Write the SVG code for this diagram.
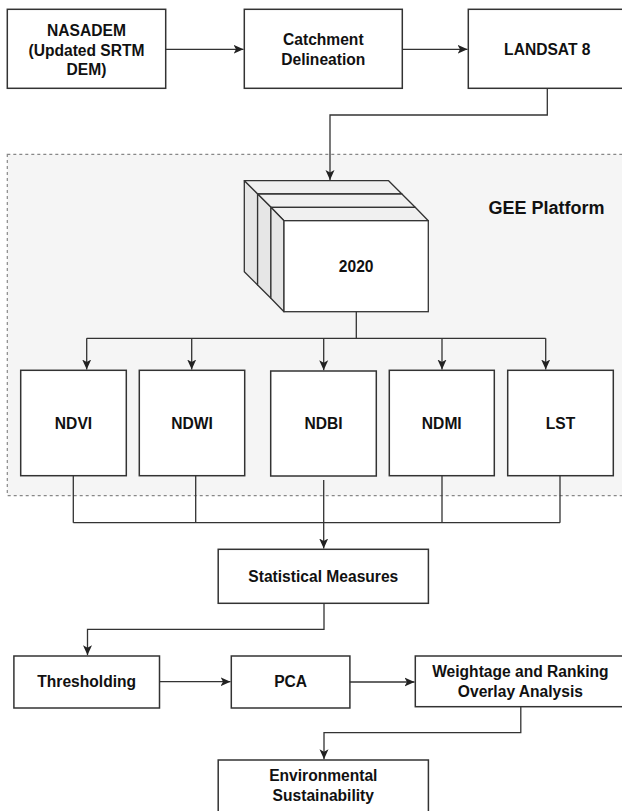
<svg xmlns="http://www.w3.org/2000/svg" width="622" height="811" viewBox="0 0 622 811">
<defs>
<marker id="arr" viewBox="0 0 10 10" markerWidth="10" markerHeight="10" refX="10" refY="5" orient="auto" markerUnits="userSpaceOnUse"><path d="M0,0.5 L10,5 L0,9.5 L2.5,5 Z" fill="#222"/></marker>
</defs>
<style>
.box{fill:#fff;stroke:#333;stroke-width:1.5}
.lbl{font-family:"Liberation Sans",Arial,sans-serif;font-weight:bold;font-size:15.6px;fill:#111;text-anchor:middle;dominant-baseline:central}
.ln{fill:none;stroke:#333;stroke-width:1.3}
.ar{marker-end:url(#arr)}
.top{fill:#f0f0f0;stroke:#333;stroke-width:1.3;stroke-linejoin:round}
.side{fill:#e6e6e6;stroke:#333;stroke-width:1.3;stroke-linejoin:round}
</style>
<rect x="0" y="0" width="622" height="811" fill="#fff"/>

<g id="gee-platform">
<rect x="7.3" y="154.3" width="620" height="341.4" fill="#f5f5f5" stroke="#888" stroke-width="1.2" stroke-dasharray="3 3"/>
<text class="lbl" x="546.4" y="207.7" style="font-size:18px">GEE Platform</text>
</g>

<g id="nasadem">
<rect class="box" x="7.3" y="9.3" width="158.4" height="79"/>
<text class="lbl" x="86.5" y="30.7">NASADEM</text>
<text class="lbl" x="86.5" y="50">(Updated SRTM</text>
<text class="lbl" x="86.5" y="69.3">DEM)</text>
</g>
<g id="catchment">
<rect class="box" x="244.3" y="9.3" width="158" height="79"/>
<text class="lbl" x="323.3" y="39.3">Catchment</text>
<text class="lbl" x="323.3" y="59.3">Delineation</text>
</g>
<g id="landsat">
<rect class="box" x="468.3" y="9.3" width="158" height="79"/>
<text class="lbl" x="547.3" y="49.3">LANDSAT 8</text>
</g>

<g id="cube-2020">
<polygon class="top" points="244.3,180.7 388.6,180.7 401.9,194 257.6,194"/>
<polygon class="top" points="257.6,194 401.9,194 415.2,207.3 270.9,207.3"/>
<polygon class="top" points="270.9,207.3 415.2,207.3 428.3,220.7 284,220.7"/>
<polygon class="side" points="244.3,180.7 257.6,194 257.6,285 244.3,271.7"/>
<polygon class="side" points="257.6,194 270.9,207.3 270.9,298.3 257.6,285"/>
<polygon class="side" points="270.9,207.3 284,220.7 284,311.7 270.9,298.3"/>
<rect x="284" y="220.7" width="144.3" height="91" fill="#fff" stroke="#333" stroke-width="1.3"/>
<text class="lbl" x="356.2" y="266">2020</text>
</g>

<g id="ndvi"><rect class="box" x="20.7" y="370.3" width="105.6" height="105.4"/><text class="lbl" x="73.5" y="423">NDVI</text></g>
<g id="ndwi"><rect class="box" x="139.3" y="370.3" width="105.4" height="105.4"/><text class="lbl" x="192" y="423">NDWI</text></g>
<g id="ndbi"><rect class="box" x="270.7" y="371" width="105.6" height="105"/><text class="lbl" x="323.5" y="423.5">NDBI</text></g>
<g id="ndmi"><rect class="box" x="389.3" y="370.3" width="105" height="105.4"/><text class="lbl" x="441.8" y="423">NDMI</text></g>
<g id="lst"><rect class="box" x="507.7" y="370.3" width="105.6" height="105.4"/><text class="lbl" x="560.5" y="423">LST</text></g>

<g id="statistical-measures"><rect class="box" x="218.2" y="549.3" width="210.2" height="54"/><text class="lbl" x="323.3" y="576.5">Statistical Measures</text></g>
<g id="thresholding"><rect class="box" x="13.9" y="656" width="145.6" height="52"/><text class="lbl" x="86.7" y="681.7">Thresholding</text></g>
<g id="pca"><rect class="box" x="231.3" y="656" width="118.6" height="52"/><text class="lbl" x="290.6" y="681.7">PCA</text></g>
<g id="weightage"><rect class="box" x="415.3" y="656" width="210" height="50.7"/><text class="lbl" x="520.4" y="671.7">Weightage and Ranking</text><text class="lbl" x="520.4" y="691">Overlay Analysis</text></g>
<g id="environmental-sustainability"><rect class="box" x="218.2" y="760" width="210.2" height="54"/><text class="lbl" x="323.3" y="775.7">Environmental</text><text class="lbl" x="323.3" y="795">Sustainability</text></g>

<g id="connectors">
<path class="ln ar" d="M165.7,49.3 H243.5"/>
<path class="ln ar" d="M402.3,49.3 H467.5"/>
<path class="ln ar" d="M547.3,88.3 V115 H330 V180"/>
<path class="ln" d="M356.3,311.7 V338.3 M86.7,338.3 H545.7"/>
<path class="ln ar" d="M86.7,338.3 V369.5"/>
<path class="ln ar" d="M191.7,338.3 V369.5"/>
<path class="ln ar" d="M323.7,338.3 V370.2"/>
<path class="ln ar" d="M442,338.3 V369.5"/>
<path class="ln ar" d="M545.7,338.3 V369.5"/>
<path class="ln" d="M73.3,475.7 V522.7 M195.7,475.7 V522.7 M442,475.7 V522.7 M560,475.7 V522.7 M73.3,522.7 H560"/>
<path class="ln ar" d="M323.7,480 V548.5"/>
<path class="ln ar" d="M324,603.3 V629.3 H87.5 V655.2"/>
<path class="ln ar" d="M159.5,681.7 H230.5"/>
<path class="ln ar" d="M349.9,682 H414.5"/>
<path class="ln ar" d="M520.8,706.7 V732.7 H324 V759.2"/>
</g>
</svg>
